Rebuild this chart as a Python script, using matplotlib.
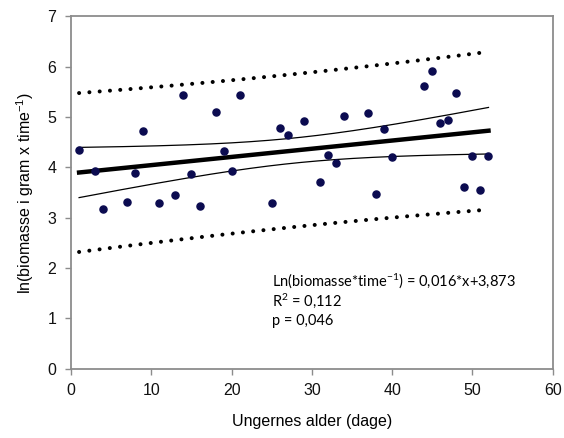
import numpy as np
import matplotlib.pyplot as plt

# ungernes alder (dage) og ln(biomasse i gram x time^-1)
age = [1, 3, 4, 7, 8, 9, 11, 13, 14, 15, 16, 18, 19, 20, 21, 25, 26, 27,
       29, 31, 32, 33, 34, 37, 38, 39, 40, 44, 45, 46, 47, 48, 49, 50, 51, 52]
ln_biomass = [4.35, 3.93, 3.18, 3.31, 3.89, 4.72, 3.29, 3.46, 5.43, 3.86, 3.23, 5.09,
              4.32, 3.92, 5.43, 3.29, 4.78, 4.64, 4.91, 3.70, 4.25, 4.09, 5.01, 5.07,
              3.47, 4.76, 4.21, 5.62, 5.92, 4.87, 4.93, 5.47, 3.61, 4.23, 3.54, 4.23]

eq_text = r"Ln(biomasse*time$\mathregular{^{-1}}$) = 0,016*x+3,873"
r2_text = r"R$\mathregular{^{2}}$ = 0,112"
p_text = "p = 0,046"

x = np.array(age, dtype=float)
y = np.array(ln_biomass)
n = len(x)

# linear regression with confidence and prediction bands
slope, intercept = np.polyfit(x, y, 1)
resid = y - (slope * x + intercept)
s = np.sqrt(np.sum(resid ** 2) / (n - 2))
sxx = np.sum((x - x.mean()) ** 2)
t_crit = 2.032  # t(0.975, df=34)

xf = np.linspace(x.min(), x.max(), 200)
yf = slope * xf + intercept
ci = t_crit * s * np.sqrt(1 / n + (xf - x.mean()) ** 2 / sxx)
pi = t_crit * s * np.sqrt(1 + 1 / n + (xf - x.mean()) ** 2 / sxx)

fig = plt.figure(figsize=(5.64, 4.38), dpi=100)
ax = fig.add_axes([0.126, 0.158, 0.854, 0.805])

dots = dict(color='black', lw=2.9, linestyle=(0, (0.01, 2.55)), dash_capstyle='round')
ax.plot(xf, yf + pi, **dots)
ax.plot(xf, yf - pi, **dots)
ax.plot(xf, yf + ci, color='black', lw=0.9)
ax.plot(xf, yf - ci, color='black', lw=0.9)
ax.plot(xf, yf, color='black', lw=3.2)
ax.scatter(x, y, s=26, color='#0b0b50', zorder=3)

ax.set_xlim(0, 60)
ax.set_ylim(0, 7)
ax.set_xticks(range(0, 61, 10))
ax.set_yticks(range(0, 8))

for sp in ax.spines.values():
    sp.set_color('#8c8c8c')
    sp.set_linewidth(1.3)
ax.tick_params(direction='out', length=4, width=1, color='#8c8c8c',
               labelsize=11.5, pad=6.5, labelcolor='#111111')
for lab in ax.get_xticklabels() + ax.get_yticklabels():
    lab.set_family('Liberation Sans')

ax.set_xlabel('Ungernes alder (dage)', fontsize=11.5, family='Liberation Sans',
              labelpad=11)
ax.set_ylabel(r'ln(biomasse i gram x time$\mathregular{^{-1}}$)', fontsize=11.5,
              family='Liberation Sans', labelpad=8)

ax.text(25.0, 1.75, eq_text, fontsize=10.5, family='Lato', va='center')
ax.text(25.0, 1.35, r2_text, fontsize=10.5, family='Lato', va='center')
ax.text(25.0, 0.95, p_text, fontsize=10.5, family='Lato', va='center')

fig.savefig('out.png', dpi=100)
